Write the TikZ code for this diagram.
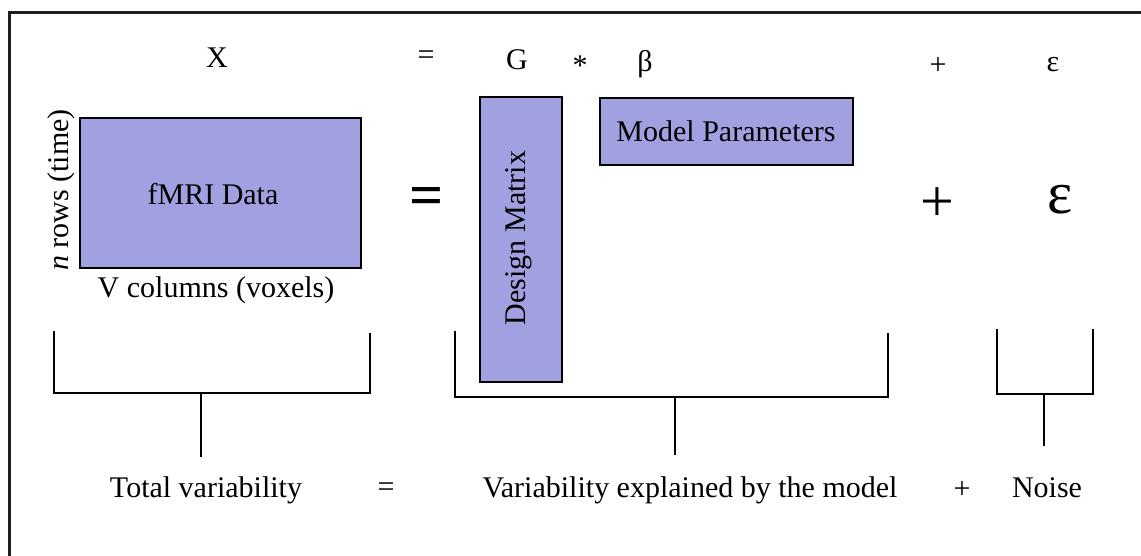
\documentclass[tikz,border=0pt]{standalone}
\usepackage{fontspec}
\setmainfont{Liberation Serif}
\definecolor{boxfill}{HTML}{A1A1E1}
\definecolor{frameline}{HTML}{1E1E24}
\begin{document}
\begin{tikzpicture}[x=1pt,y=-1pt,
  txt/.style={inner sep=0pt, font=\fontsize{30}{36}\selectfont},
  big/.style={inner sep=0pt, font=\fontsize{60}{72}\selectfont},
  mbox/.style={draw=black, line width=2pt, fill=boxfill, inner sep=0pt},
  brk/.style={draw=black, line width=2.6pt, line cap=butt, line join=miter}]
\useasboundingbox (0,0) rectangle (1141,556);
% frame (top and left edges visible)
\draw[frameline, line width=3pt] (9,560) -- (9,13) -- (1145,13);

% top equation row
\node[txt, anchor=base] (tX) at (217,68) {X};
\node[txt] (teq) at (426,58) {=};
\node[txt, anchor=base] (tG) at (517,70) {G};
\node[txt] (tstar) at (580,66) {*};
\node[txt] (tbeta) at (645,64) {β};
\node[txt] (tplus) at (938,66) {+};
\node[txt] (teps) at (1053,65) {ε};

% fMRI data matrix
\node[mbox, minimum width=281pt, minimum height=150pt] (fmri) at (220.5,193) {};
\node[txt] (fmrilbl) at (213,194) {fMRI Data};
\node[txt, rotate=90] (rows) at (61,190) {\textit{n} rows (time)};
\node[txt, anchor=base] (cols) at (216,298) {V columns (voxels)};

% big operators
\node[big, font=\fontsize{60}{72}\selectfont\bfseries] (beq) at (427,201) {=};
\node[big] (bplus) at (937,205) {+};
\node[big] (beps) at (1060,200) {ε};

% design matrix
\node[mbox, minimum width=82pt, minimum height=285pt] (design) at (521,239.5) {};
\node[txt, rotate=90] (designlbl) at (519,238) {Design Matrix};

% model parameters
\node[mbox, minimum width=253pt, minimum height=67pt] (params) at (726.5,131.5) {};
\node[txt] (paramslbl) at (726,131) {Model Parameters};

% brackets
\draw[brk] (54,331) -- (54,393) -- (370,393) -- (370,333);
\draw[brk] (201,393) -- (201,457);
\draw[brk] (455,331) -- (455,397) -- (888,397) -- (888,333);
\draw[brk] (675,397) -- (675,455);
\draw[brk] (997,329) -- (997,394) -- (1093,394) -- (1093,329);
\draw[brk] (1044,394) -- (1044,446);

% bottom row
\node[txt, anchor=base] (total) at (206,497) {Total variability};
\node[txt] (beq2) at (386,490) {=};
\node[txt, anchor=base] (model) at (690,497) {Variability explained by the model};
\node[txt] (bplus2) at (962,490) {+};
\node[txt, anchor=base] (noise) at (1047,497) {Noise};
\end{tikzpicture}
\end{document}
